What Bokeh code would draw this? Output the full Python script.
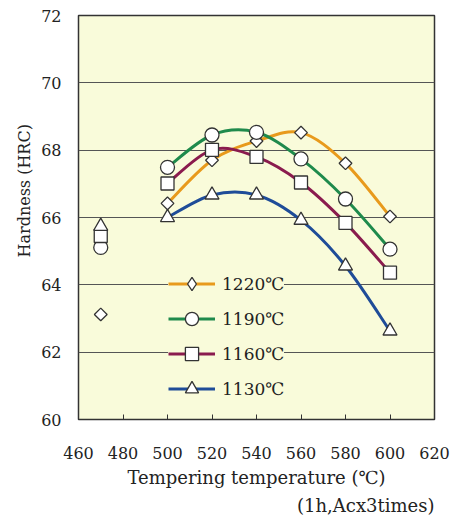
import math
from bokeh.plotting import figure
from bokeh.embed import file_html
from bokeh.resources import INLINE
from bokeh.models import Range1d, FixedTicker, Title, Legend, LegendItem, ColumnDataSource

# ---- data ----
temps = [500, 520, 540, 560, 580, 600]
quench_temp = [470]
series_names = ["1220℃", "1190℃", "1160℃", "1130℃"]
hrc_1220 = [66.42, 67.70, 68.27, 68.52, 67.61, 66.03]
hrc_1190 = [67.49, 68.45, 68.53, 67.74, 66.55, 65.06]
hrc_1160 = [67.01, 68.01, 67.80, 67.04, 65.84, 64.36]
hrc_1130 = [66.00, 66.67, 66.67, 65.92, 64.56, 62.63]
quench_1220 = [63.12]
quench_1190 = [65.11]
quench_1160 = [65.45]
quench_1130 = [65.74]
x_ticks = [460, 480, 500, 520, 540, 560, 580, 600, 620]
y_ticks = [60, 62, 64, 66, 68, 70, 72]

colors = ["#e89a1c", "#1f8a4c", "#8a1b4e", "#1f4c98"]
markers = ["square", "circle", "square", "triangle"]
legend_markers = ["diamond", "circle", "square", "triangle"]
angles = [math.pi / 4, 0, 0, 0]
sizes = [9, 14, 13, 14]
series = [hrc_1220, hrc_1190, hrc_1160, hrc_1130]
quench = [quench_1220, quench_1190, quench_1160, quench_1130]

BG = "#f9fbda"
FONT = "DejaVu Serif"
TXT = "#222222"
EDGE = "#333333"

p = figure(frame_width=356, frame_height=404, output_backend="svg", toolbar_location=None,
           x_range=Range1d(460, 620), y_range=Range1d(60, 72),
           min_border_left=78, min_border_right=16, min_border_top=15, min_border_bottom=0)
p.background_fill_color = BG
p.border_fill_color = "white"
p.outline_line_color = EDGE
p.outline_line_width = 1.5

p.xgrid.visible = False
p.ygrid.grid_line_color = "#555555"
p.ygrid.grid_line_width = 1
p.ygrid.ticker = FixedTicker(ticks=y_ticks)

p.xaxis.ticker = FixedTicker(ticks=x_ticks)
p.yaxis.ticker = FixedTicker(ticks=y_ticks)
for ax in (p.xaxis[0], p.yaxis[0]):
    ax.axis_line_color = None
    ax.minor_tick_line_color = None
    ax.major_label_text_font = FONT
    ax.major_label_text_font_size = "16px"
    ax.major_label_text_color = TXT
    ax.axis_label_text_font = FONT
    ax.axis_label_text_font_size = "18px"
    ax.axis_label_text_font_style = "normal"
    ax.axis_label_text_color = TXT
    ax.major_tick_out = 0
p.xaxis.major_tick_in = 5
p.xaxis.major_tick_line_color = EDGE
p.yaxis.major_tick_in = 0
p.yaxis.major_tick_line_color = None
p.xaxis.major_label_standoff = 27
p.yaxis.major_label_standoff = 17
p.xaxis.axis_label = "Tempering temperature (℃)"
p.xaxis.axis_label_standoff = 5

ytitle = Title(text="Hardness (HRC)", align="left", offset=162, text_font=FONT,
               text_font_size="16px", text_font_style="normal", text_color=TXT,
               standoff=9)
p.add_layout(ytitle, "left")

def catmull_bezier(xs, ys):
    n = len(xs)
    px = [xs[0]] + list(xs) + [xs[-1]]
    py = [ys[0]] + list(ys) + [ys[-1]]
    d = dict(x0=[], y0=[], x1=[], y1=[], cx0=[], cy0=[], cx1=[], cy1=[])
    for i in range(1, n):
        d["x0"].append(px[i]); d["y0"].append(py[i])
        d["x1"].append(px[i + 1]); d["y1"].append(py[i + 1])
        d["cx0"].append(px[i] + (px[i + 1] - px[i - 1]) / 6.0)
        d["cy0"].append(py[i] + (py[i + 1] - py[i - 1]) / 6.0)
        d["cx1"].append(px[i + 1] - (px[i + 2] - px[i]) / 6.0)
        d["cy1"].append(py[i + 1] - (py[i + 2] - py[i]) / 6.0)
    return ColumnDataSource(d)

line_rs = []
for col, ys in zip(colors, series):
    r = p.bezier(x0="x0", y0="y0", x1="x1", y1="y1", cx0="cx0", cy0="cy0",
                 cx1="cx1", cy1="cy1", source=catmull_bezier(temps, ys),
                 line_color=col, line_width=3)
    line_rs.append(r)

# legend-glyph renderers (hidden under the visible markers)
leg_rs = []
for lmk, ys in zip(legend_markers, series):
    lr = p.scatter(temps, ys, marker=lmk, size=8, fill_color="white",
                   line_color=EDGE, line_width=1.3)
    leg_rs.append(lr)

for mk, ang, sz, ys, q in zip(markers, angles, sizes, series, quench):
    p.scatter(temps, ys, marker=mk, angle=ang, size=sz, fill_color="white",
              line_color=EDGE, line_width=1.3)
    p.scatter(quench_temp, q, marker=mk, angle=ang, size=sz, fill_color="white",
              line_color=EDGE, line_width=1.3)

items = [LegendItem(label=name, renderers=[lr, mr])
         for name, lr, mr in zip(series_names, line_rs, leg_rs)]

legend = Legend(items=items, location=(90, 13))
legend.background_fill_color = BG
legend.background_fill_alpha = 1
legend.border_line_color = None
legend.glyph_width = 47
legend.glyph_height = 33
legend.label_height = 35
legend.spacing = 0
legend.padding = 6
legend.margin = 0
legend.label_standoff = 7
legend.label_text_font = FONT
legend.label_text_font_size = "17px"
legend.label_text_color = TXT
p.add_layout(legend, "center")

t = Title(text="(1h,Acx3times)", align="right", text_font=FONT,
          text_font_size="18px", text_font_style="normal", text_color=TXT,
          offset=0, standoff=5)
p.add_layout(t, "below")

open("out.html", "w").write(file_html(p, INLINE))
